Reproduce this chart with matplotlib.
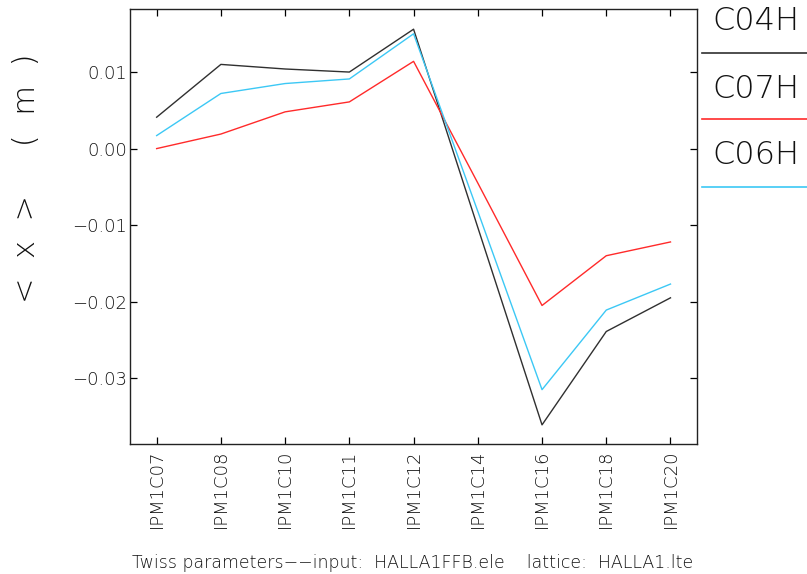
import matplotlib
matplotlib.use("Agg")
import matplotlib.pyplot as plt
from matplotlib.lines import Line2D

categories = ["IPM1C07", "IPM1C08", "IPM1C10", "IPM1C11", "IPM1C12",
              "IPM1C14", "IPM1C16", "IPM1C18", "IPM1C20"]
c04h = [0.0041, 0.0110, 0.0104, 0.0100, 0.0156, -0.0103, -0.0361, -0.0239, -0.0195]
c07h = [0.0000, 0.0019, 0.0048, 0.0061, 0.0114, -0.0045, -0.0205, -0.0140, -0.0122]
c06h = [0.0017, 0.0072, 0.0085, 0.0091, 0.0150, -0.0082, -0.0315, -0.0211, -0.0177]
series_names = ["C04H", "C07H", "C06H"]
yticks = [0.01, 0.00, -0.01, -0.02, -0.03]
ytick_labels = ["0.01", "0.00", "\u22120.01", "\u22120.02", "\u22120.03"]
ylabel = "<  x  >     (  m  )"
caption = "Twiss parameters\u2212\u2212input:  HALLA1FFB.ele    lattice:  HALLA1.lte"

colors = ["#303030", "#ff2a2a", "#3cc8f5"]
txt = "#111111"

plt.rcParams['font.family'] = ['DejaVu Sans']
plt.rcParams['font.weight'] = 200
fig = plt.figure(figsize=(8.07, 5.74), dpi=100)
ax = fig.add_axes([130/807, 1-444/574, (696.5-130)/807, (444-9.3)/574])

x = list(range(len(categories)))
for vals, c in zip([c04h, c07h, c06h], colors):
    ax.plot(x, vals, color=c, lw=1.0)

ax.set_xlim(-0.415, 8.405)
ax.set_ylim(-0.0386, 0.0182)
ax.set_xticks(x)
ax.set_xticklabels(categories, rotation=90, fontsize=13, color=txt)
ax.set_yticks(yticks)
ax.set_yticklabels(ytick_labels, fontsize=13, color=txt)
ax.tick_params(direction="in", length=5, width=0.9, top=True, right=True)
ax.tick_params(axis="y", pad=2)
ax.tick_params(axis="x", pad=4)
for s in ax.spines.values():
    s.set_linewidth(1.0)
    s.set_color("#222222")

fig.text(27/807, 1-178/574, ylabel, rotation=90, ha="center", va="center",
         fontsize=22, color=txt)
fig.text(413/807, 1-563/574, caption, ha="center", va="center",
         fontsize=12.5, color=txt)

text_y = [21.5, 88.5, 155]
line_y = [52.7, 119.3, 187]
for name, c, ty, ly in zip(series_names, colors, text_y, line_y):
    fig.text(712/807, 1-ty/574, name, ha="left", va="center", fontsize=23,
             color=txt)
    fig.add_artist(Line2D([702/807, 1.0], [1-ly/574, 1-ly/574], color=c, lw=1.2,
                          transform=fig.transFigure))

fig.savefig("out.png", dpi=100)
